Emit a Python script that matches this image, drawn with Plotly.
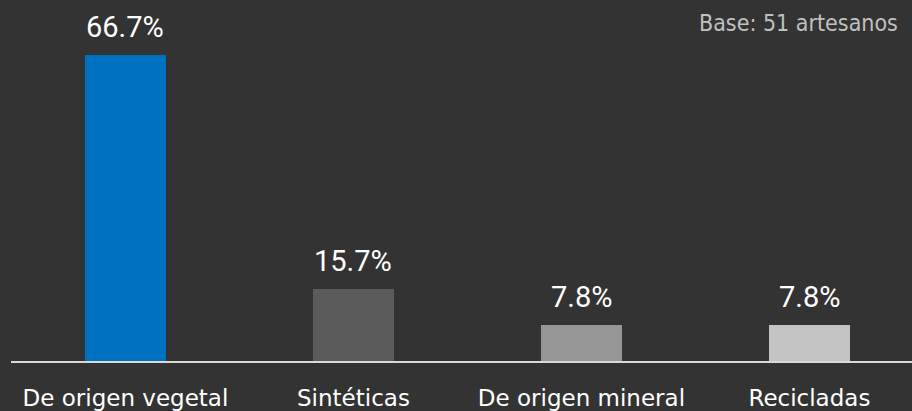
import plotly.graph_objects as go

categories = ["De origen vegetal", "Sintéticas", "De origen mineral", "Recicladas"]
values = [66.7, 15.7, 7.8, 7.8]
value_labels = ["66.7%", "15.7%", "7.8%", "7.8%"]
bar_colors = ["#0070C0", "#5B5B5B", "#969696", "#C3C3C3"]
base_note = "Base: 51 artesanos"

BG = "#333333"

fig = go.Figure()
fig.add_trace(go.Bar(
    x=categories,
    y=values,
    marker=dict(color=bar_colors, line=dict(width=0)),
    width=0.355,
    hoverinfo="skip",
))

for c, v, t in zip(categories, values, value_labels):
    fig.add_annotation(
        x=c, y=v, xref="x", yref="y", text=t, showarrow=False,
        yanchor="middle", xanchor="center", yshift=28,
        font=dict(family="Roboto, sans-serif", size=29, color="#FFFFFF"),
    )

fig.add_annotation(
    x=(900 - 11) / 901, y=1 - 23 / 361, xref="paper", yref="paper",
    text=base_note, showarrow=False, xanchor="right", yanchor="middle",
    font=dict(family="DejaVu Sans Condensed, DejaVu Sans, sans-serif", size=23, color="#C0C0C0"),
)

fig.update_layout(
    width=912, height=411,
    margin=dict(l=11, r=0, t=0, b=50),
    paper_bgcolor=BG, plot_bgcolor=BG,
    showlegend=False,
    bargap=0,
    xaxis=dict(
        type="category",
        range=[-0.502, 3.450],
        showgrid=False, zeroline=False,
        showline=True, linecolor="#D9D9D9", linewidth=2,
        ticks="", ticklabelstandoff=15,
        tickfont=dict(family="DejaVu Sans, sans-serif", size=23, color="#FFFFFF"),
    ),
    yaxis=dict(
        range=[0, 78.7],
        showgrid=False, zeroline=False, showline=False,
        showticklabels=False, ticks="",
    ),
)

fig.write_html(
    "out.html",
    config={"displayModeBar": False, "staticPlot": True},
    post_script="document.body.style.margin='0px';document.body.style.background='#333333';",
)
